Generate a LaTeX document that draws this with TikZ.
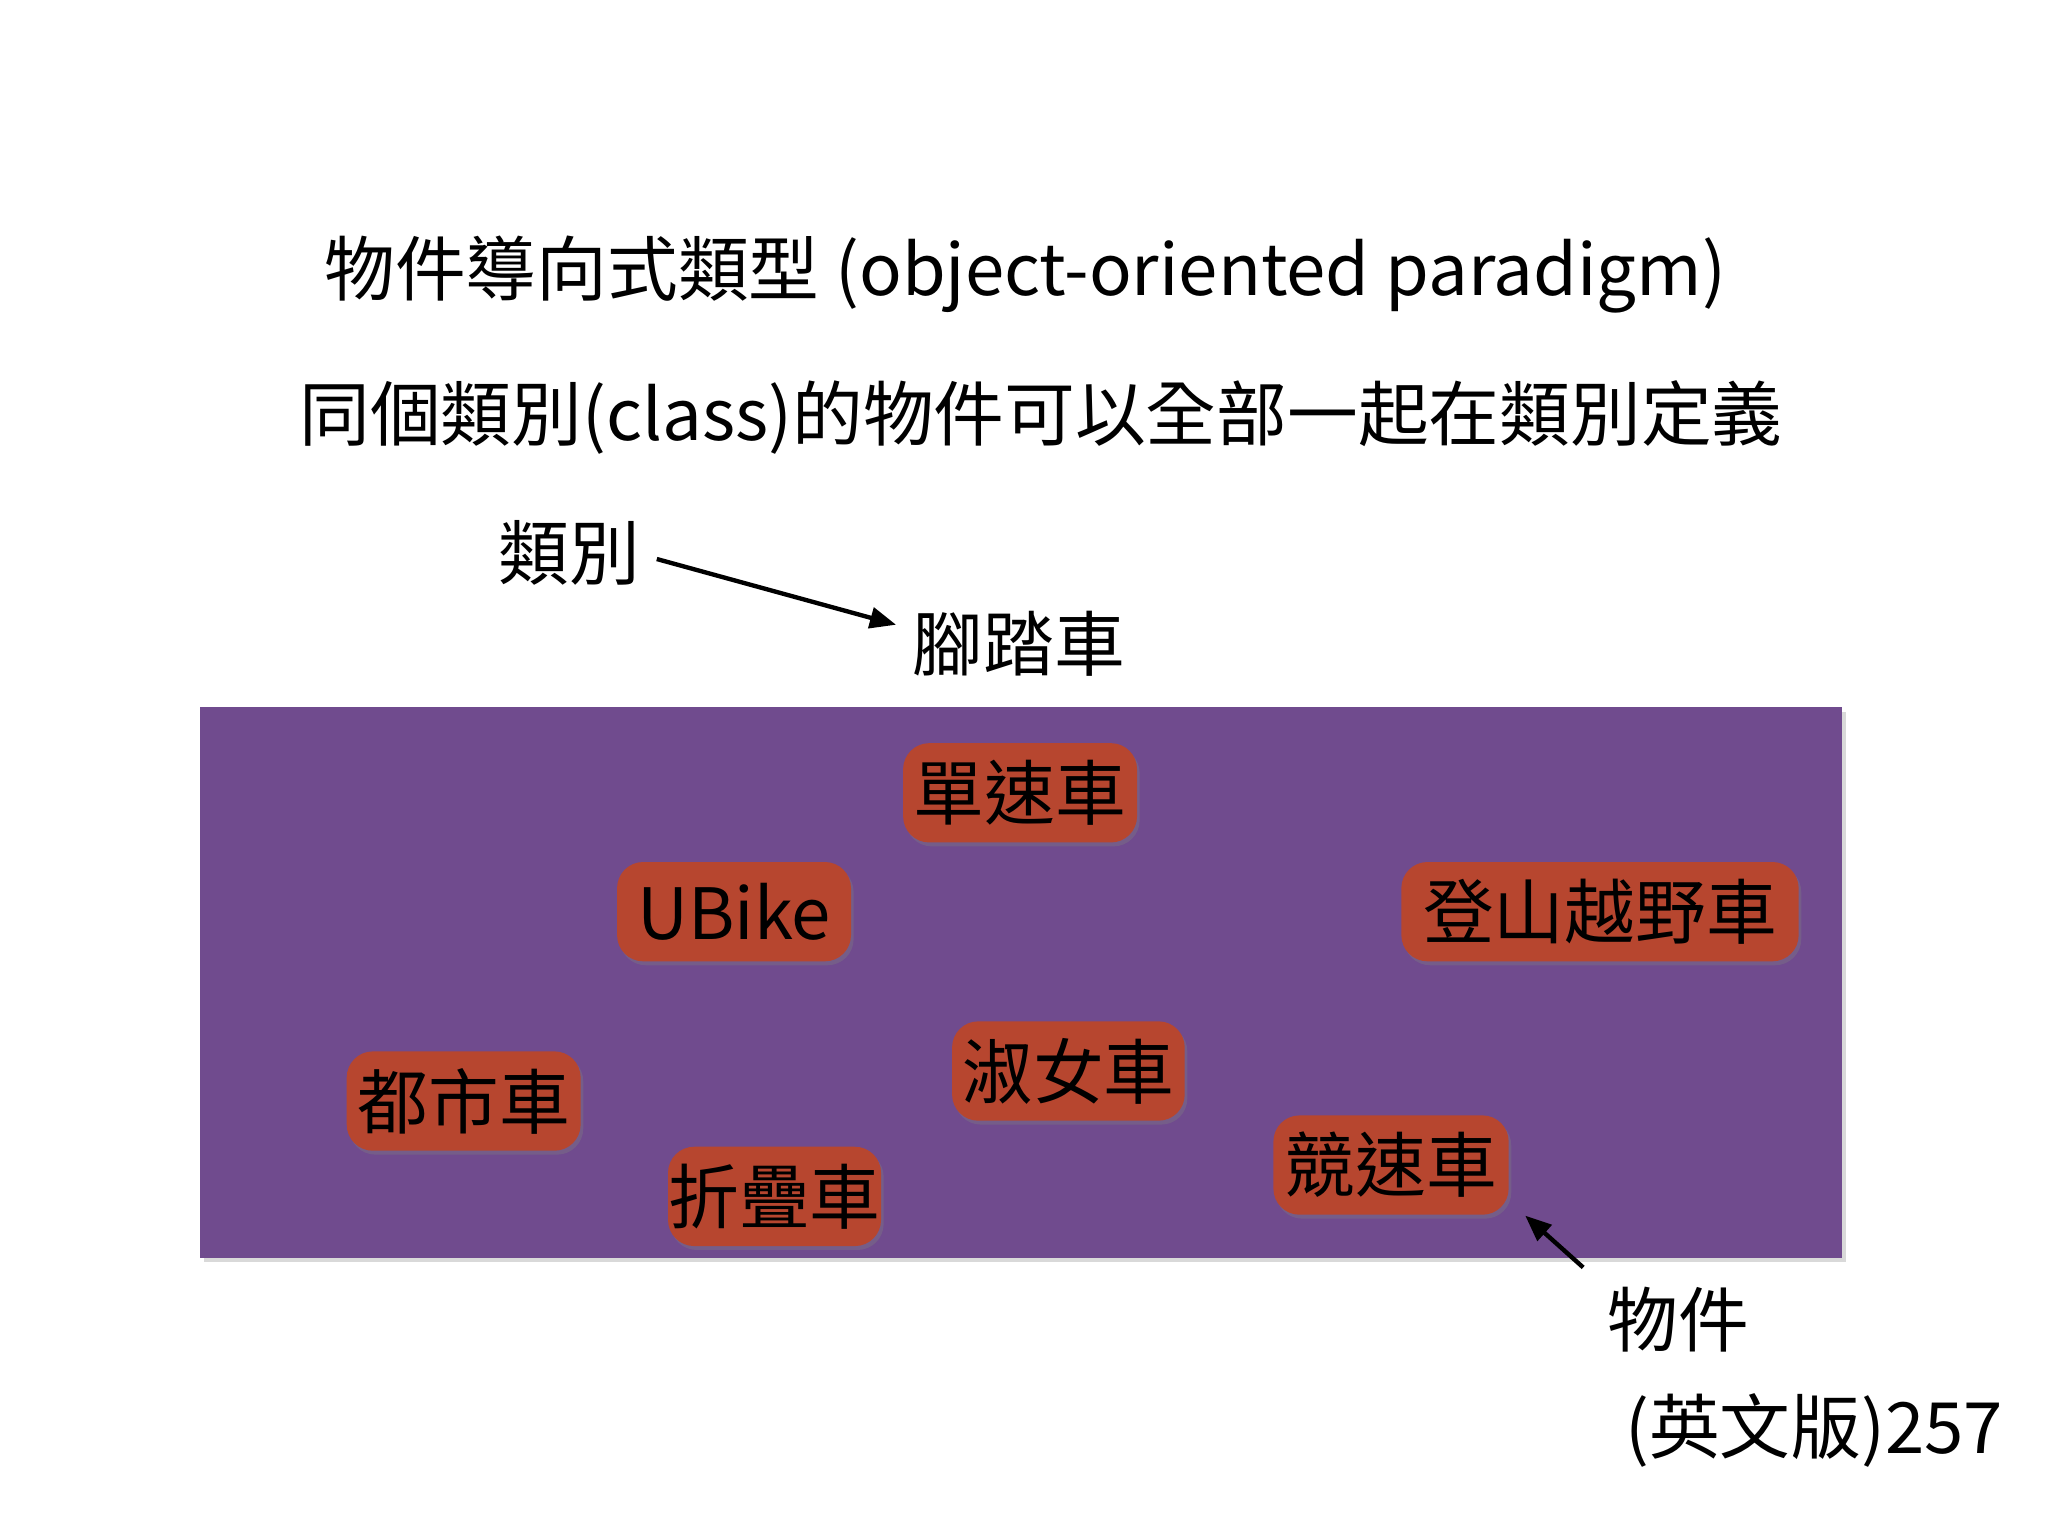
\documentclass[tikz,border=0pt]{standalone}
\usepackage{fontspec}
\setmainfont{Noto Sans CJK TC}
\usetikzlibrary{arrows.meta,shadows}
\definecolor{bgpurple}{HTML}{704B8E}
\definecolor{tagred}{HTML}{B7462F}
\tikzset{
  txt/.style={inner sep=0pt, font=\fontsize{15.4}{18}\selectfont},
  tagbox/.style={txt, fill=tagred, rounded corners=0.2cm, minimum height=0.76cm,
    drop shadow={opacity=0.35, shadow xshift=0.02cm, shadow yshift=-0.03cm}},
  arr/.style={-{Triangle[length=0.2cm,width=0.16cm]}, line width=0.95pt},
}
\begin{document}
\begin{tikzpicture}[x=0.01cm,y=-0.01cm]
\useasboundingbox[fill=white] (0,0) rectangle (1568,1176);
% purple board
\fill[black,opacity=0.15] (156,545) rectangle (1413,966);
\fill[bgpurple] (153,541) rectangle (1410,963);
% titles
\node[txt] (t1) at (785,210) {物件導向式類型 (object-oriented paradigm)};
\node[txt] (t2) at (797,320) {同個類別(class)的物件可以全部一起在類別定義};
% class label
\node[txt] (lei) at (436,423) {類別};
\node[txt] (jiao) at (780,493) {腳踏車};
\draw[arr] ([xshift=0.12cm,yshift=-0.05cm]lei.east) -- ([xshift=-0.12cm,yshift=-0.11cm]jiao.north west);
% tags
\node[tagbox, minimum width=1.79cm] (dan) at (781,607) {單速車};
\node[tagbox, minimum width=1.79cm] (ubike) at (562,698) {UBike};
\node[tagbox, minimum width=3.04cm] (deng) at (1225,698) {登山越野車};
\node[tagbox, minimum width=1.78cm] (shu) at (818,820) {淑女車};
\node[tagbox, minimum width=1.79cm] (du) at (355,843) {都市車};
\node[tagbox, minimum width=1.80cm] (jing) at (1065,892) {競速車};
\node[tagbox, minimum width=1.63cm] (zhe) at (593,916) {折疊車};
% object label
\node[txt] (wu) at (1285,1010) {物件};
\node[txt] (ref) at (1389,1095) {(英文版)257};
\draw[arr] ([xshift=-0.18cm,yshift=0.14cm]wu.north west) -- ([xshift=0.12cm,yshift=0cm]jing.south east);
\end{tikzpicture}
\end{document}
